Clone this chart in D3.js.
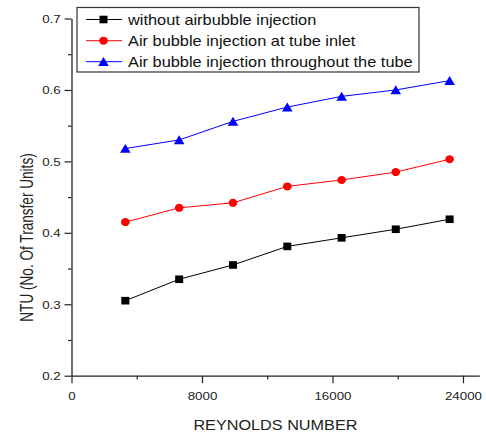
<!DOCTYPE html>
<html>
<head>
<meta charset="utf-8">
<script src="https://cdn.jsdelivr.net/npm/d3@7"></script>
<style>
  html, body { margin: 0; padding: 0; background: #fff; }
  svg { display: block; font-family: "Liberation Sans", Arial, sans-serif; }
</style>
</head>
<body>
<svg id="chart" width="486" height="432"></svg>
<script>
// ---- data ----
const reynolds = [3300, 6600, 9900, 13230, 16560, 19880, 23180];
const ntuWithout = [0.305, 0.335, 0.355, 0.381, 0.393, 0.405, 0.419];
const ntuInlet = [0.415, 0.435, 0.442, 0.465, 0.474, 0.485, 0.503];
const ntuThroughout = [0.518, 0.530, 0.556, 0.576, 0.591, 0.600, 0.613];
const seriesNames = ["without airbubble injection", "Air bubble injection at tube inlet", "Air bubble injection throughout the tube"];
const xMajorTicks = [0, 8000, 16000, 24000];
const xMinorTicks = [4000, 12000, 20000];
const yMajorTicks = [0.2, 0.3, 0.4, 0.5, 0.6, 0.7];
const yMinorTicks = [0.25, 0.35, 0.45, 0.55, 0.65];
const xTitle = "REYNOLDS NUMBER";
const yTitle = "NTU (No. Of Transfer Units)";

const series = [
  { name: seriesNames[0], values: ntuWithout, color: "#000000", shape: "square" },
  { name: seriesNames[1], values: ntuInlet, color: "#ff0000", shape: "circle" },
  { name: seriesNames[2], values: ntuThroughout, color: "#0000ff", shape: "triangle" }
];

const svg = d3.select("#chart");
const x = d3.scaleLinear().domain([0, 25000]).range([71.5, 479.3]);
const y = d3.scaleLinear().domain([0.2, 0.7]).range([375.7, 18.5]);
const axisColor = "#222";
const tickSX = 1.27;   // horizontal stretch of the reference text

// ---- axes ----
function styleAxis(g) {
  g.select(".domain").attr("stroke", axisColor).attr("stroke-width", 1.3);
  g.selectAll(".tick line").attr("stroke", axisColor).attr("stroke-width", 1.2);
}
const gx = svg.append("g").attr("transform", `translate(0,${y(0.2)})`)
  .call(d3.axisBottom(x).tickValues(xMajorTicks).tickSize(7.5).tickSizeOuter(0).tickFormat(d3.format("d")));
styleAxis(gx);
gx.selectAll(".tick text")
  .attr("y", 24.5).attr("dy", "0")
  .attr("fill", "#222").style("font-size", "10.5px")
  .attr("transform", `scale(${tickSX},1)`);
const gxm = svg.append("g").attr("transform", `translate(0,${y(0.2)})`)
  .call(d3.axisBottom(x).tickValues(xMinorTicks).tickSize(3.7).tickSizeOuter(0).tickFormat(""));
gxm.select(".domain").remove();
styleAxis(gxm);

const gy = svg.append("g").attr("transform", `translate(${x(0)},0)`)
  .call(d3.axisLeft(y).tickValues(yMajorTicks).tickSize(7).tickSizeOuter(0).tickFormat(d3.format(".1f")));
styleAxis(gy);
gy.selectAll(".tick text")
  .attr("x", -10.8 / tickSX).attr("dy", "0.36em")
  .attr("fill", "#222").style("font-size", "10.5px")
  .attr("transform", `scale(${tickSX},1)`);
const gym = svg.append("g").attr("transform", `translate(${x(0)},0)`)
  .call(d3.axisLeft(y).tickValues(yMinorTicks).tickSize(3.5).tickSizeOuter(0).tickFormat(""));
gym.select(".domain").remove();
styleAxis(gym);

// ---- titles ----
svg.append("text")
  .attr("transform", `translate(${(x(0) + x(25000)) / 2},430) scale(1.12,1)`)
  .attr("text-anchor", "middle").style("font-size", "14.5px").attr("fill", "#222")
  .text(xTitle);
svg.append("text")
  .attr("transform", `translate(32.5,237.5) scale(1.3,1) rotate(-90)`)
  .attr("text-anchor", "middle").style("font-size", "13.6px").attr("fill", "#222")
  .text(yTitle);

// ---- markers ----
function drawMarker(g, shape, color, cx, cy) {
  if (shape === "square") {
    g.append("rect").attr("x", cx - 4).attr("y", cy - 3.8).attr("width", 8).attr("height", 7.6).attr("fill", color);
  } else if (shape === "circle") {
    g.append("ellipse").attr("cx", cx).attr("cy", cy).attr("rx", 4.3).attr("ry", 4).attr("fill", color);
  } else {
    g.append("path").attr("d", `M${cx},${cy - 4.6}L${cx + 5.3},${cy + 4.3}L${cx - 5.3},${cy + 4.3}Z`).attr("fill", color);
  }
}

const line = d3.line().x(d => x(d[0])).y(d => y(d[1]));
series.forEach(s => {
  const pts = reynolds.map((r, i) => [r, s.values[i]]);
  svg.append("path").datum(pts).attr("d", line)
    .attr("fill", "none").attr("stroke", s.color).attr("stroke-width", 1);
  const g = svg.append("g");
  pts.forEach(p => drawMarker(g, s.shape, s.color, x(p[0]), y(p[1])));
});

// ---- legend ----
const leg = svg.append("g");
leg.append("rect").attr("x", 77).attr("y", 7.5).attr("width", 342).attr("height", 64.5)
  .attr("fill", "#fff").attr("stroke", "#333").attr("stroke-width", 1.2);
const rowY = [19.5, 40.7, 61.7];
series.forEach((s, i) => {
  const ry = rowY[i];
  leg.append("line").attr("x1", 86).attr("x2", 122).attr("y1", ry).attr("y2", ry)
    .attr("stroke", s.color).attr("stroke-width", 1);
  drawMarker(leg, s.shape, s.color, 103.5, ry);
  leg.append("text")
    .attr("transform", `translate(128,${ry + 5}) scale(1.17,1)`)
    .style("font-size", "14px").attr("fill", "#111")
    .text(s.name);
});
</script>
</body>
</html>
